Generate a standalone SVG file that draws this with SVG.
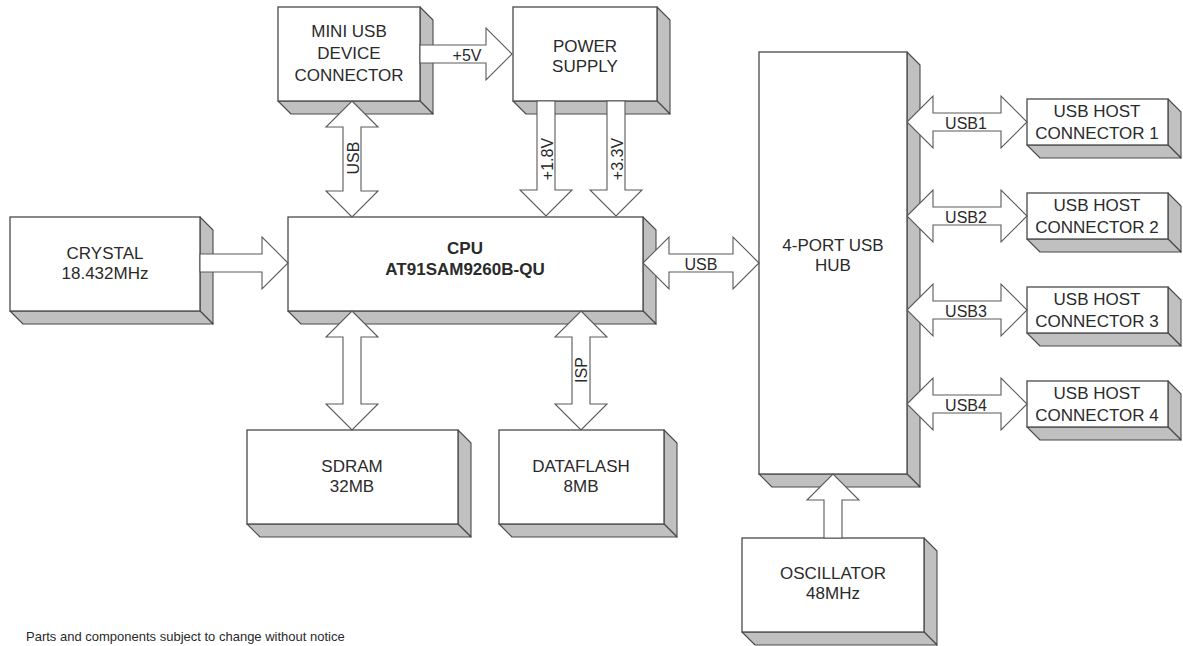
<svg xmlns="http://www.w3.org/2000/svg" width="1183" height="646" viewBox="0 0 1183 646">
<style>
.front{fill:#fff;stroke:#4a4a4a;stroke-width:1.3}
.shade{fill:#c0c0c0;stroke:#4a4a4a;stroke-width:1.1;stroke-linejoin:round}
.arrow{fill:#fff;stroke:#5a5a5a;stroke-width:1.1;stroke-linejoin:miter}
.t{font-family:"Liberation Sans",Arial,sans-serif;font-size:17px;fill:#2a2a2a;text-anchor:middle}
.b{font-weight:bold}
.lbl{font-family:"Liberation Sans",Arial,sans-serif;font-size:16px;fill:#2a2a2a;text-anchor:middle}
.note{font-family:"Liberation Sans",Arial,sans-serif;font-size:13px;fill:#2a2a2a}
</style>
<rect width="1183" height="646" fill="#fff"/>
<g id="mini-usb">
<polygon class="shade" points="420,7 433,20 433,114 420,101"/>
<polygon class="shade" points="278,101 420,101 433,114 291,114"/>
<rect class="front" x="278" y="7" width="142" height="94"/>
<text class="t" x="349" y="37">MINI USB</text>
<text class="t" x="349" y="59">DEVICE</text>
<text class="t" x="349" y="81">CONNECTOR</text>
</g>
<g id="power">
<polygon class="shade" points="657,7 670,20 670,114 657,101"/>
<polygon class="shade" points="513,101 657,101 670,114 526,114"/>
<rect class="front" x="513" y="7" width="144" height="94"/>
<text class="t" x="585" y="52">POWER</text>
<text class="t" x="585" y="72">SUPPLY</text>
</g>
<g id="crystal">
<polygon class="shade" points="200,217 213,230 213,324 200,311"/>
<polygon class="shade" points="10,311 200,311 213,324 23,324"/>
<rect class="front" x="10" y="217" width="190" height="94"/>
<text class="t" x="105" y="259">CRYSTAL</text>
<text class="t" x="105" y="279">18.432MHz</text>
</g>
<g id="cpu">
<polygon class="shade" points="643,217 656,230 656,324 643,311"/>
<polygon class="shade" points="288,311 643,311 656,324 301,324"/>
<rect class="front" x="288" y="217" width="355" height="94"/>
<text class="t b" x="465" y="254">CPU</text>
<text class="t b" x="465" y="275">AT91SAM9260B-QU</text>
</g>
<g id="hub">
<polygon class="shade" points="907,52 920,65 920,487 907,474"/>
<polygon class="shade" points="759,474 907,474 920,487 772,487"/>
<rect class="front" x="759" y="52" width="148" height="422"/>
<text class="t" x="833" y="251">4-PORT USB</text>
<text class="t" x="833" y="271">HUB</text>
</g>
<g id="sdram">
<polygon class="shade" points="458,430 471,443 471,537 458,524"/>
<polygon class="shade" points="247,524 458,524 471,537 260,537"/>
<rect class="front" x="247" y="430" width="211" height="94"/>
<text class="t" x="352" y="472">SDRAM</text>
<text class="t" x="352" y="492">32MB</text>
</g>
<g id="dataflash">
<polygon class="shade" points="664,430 677,443 677,537 664,524"/>
<polygon class="shade" points="499,524 664,524 677,537 512,537"/>
<rect class="front" x="499" y="430" width="165" height="94"/>
<text class="t" x="581" y="472">DATAFLASH</text>
<text class="t" x="581" y="492">8MB</text>
</g>
<g id="oscillator">
<polygon class="shade" points="924,538 937,551 937,645 924,632"/>
<polygon class="shade" points="742,632 924,632 937,645 755,645"/>
<rect class="front" x="742" y="538" width="182" height="94"/>
<text class="t" x="833" y="579">OSCILLATOR</text>
<text class="t" x="833" y="599">48MHz</text>
</g>
<g id="usb-host-1">
<polygon class="shade" points="1168,99 1181,112 1181,158 1168,145"/>
<polygon class="shade" points="1027,145 1168,145 1181,158 1040,158"/>
<rect class="front" x="1027" y="99" width="141" height="46"/>
<text class="t" x="1097" y="117">USB HOST</text>
<text class="t" x="1097" y="139">CONNECTOR 1</text>
</g>
<g id="usb-host-2">
<polygon class="shade" points="1168,193 1181,206 1181,252 1168,239"/>
<polygon class="shade" points="1027,239 1168,239 1181,252 1040,252"/>
<rect class="front" x="1027" y="193" width="141" height="46"/>
<text class="t" x="1097" y="211">USB HOST</text>
<text class="t" x="1097" y="233">CONNECTOR 2</text>
</g>
<g id="usb-host-3">
<polygon class="shade" points="1168,287 1181,300 1181,346 1168,333"/>
<polygon class="shade" points="1027,333 1168,333 1181,346 1040,346"/>
<rect class="front" x="1027" y="287" width="141" height="46"/>
<text class="t" x="1097" y="305">USB HOST</text>
<text class="t" x="1097" y="327">CONNECTOR 3</text>
</g>
<g id="usb-host-4">
<polygon class="shade" points="1168,381 1181,394 1181,440 1168,427"/>
<polygon class="shade" points="1027,427 1168,427 1181,440 1040,440"/>
<rect class="front" x="1027" y="381" width="141" height="46"/>
<text class="t" x="1097" y="399">USB HOST</text>
<text class="t" x="1097" y="421">CONNECTOR 4</text>
</g>
<g id="connectors">
<path class="arrow" d="M200,254 H262 V237 L288,263 L262,289 V272 H200 Z"/>
<path class="arrow" d="M420,45 H486 V28 L512,54 L486,80 V63 H420 Z"/>
<text class="lbl" x="467" y="61">+5V</text>
<path class="arrow" d="M352,101 L378,127 H361 V191 H378 L352,217 L326,191 H343 V127 H326 Z"/>
<text class="lbl" x="359" y="158" transform="rotate(-90 359 158)">USB</text>
<path class="arrow" d="M537,101 H555 V190 H572 L546,216 L520,190 H537 Z"/>
<text class="lbl" x="553" y="159" transform="rotate(-90 553 159)">+1.8V</text>
<path class="arrow" d="M607,101 H625 V190 H642 L616,216 L590,190 H607 Z"/>
<text class="lbl" x="623" y="159" transform="rotate(-90 623 159)">+3.3V</text>
<path class="arrow" d="M643,263 L669,237 V254 H733 V237 L759,263 L733,289 V272 H669 V289 Z"/>
<text class="lbl" x="701" y="270">USB</text>
<path class="arrow" d="M352,311 L378,337 H361 V404 H378 L352,430 L326,404 H343 V337 H326 Z"/>
<path class="arrow" d="M581,311 L607,337 H590 V404 H607 L581,430 L555,404 H572 V337 H555 Z"/>
<text class="lbl" x="587" y="370" transform="rotate(-90 587 370)">ISP</text>
<path class="arrow" d="M907,122 L933,96 V113 H1001 V96 L1027,122 L1001,148 V131 H933 V148 Z"/>
<text class="lbl" x="966" y="129">USB1</text>
<path class="arrow" d="M907,216 L933,190 V207 H1001 V190 L1027,216 L1001,242 V225 H933 V242 Z"/>
<text class="lbl" x="966" y="223">USB2</text>
<path class="arrow" d="M907,310 L933,284 V301 H1001 V284 L1027,310 L1001,336 V319 H933 V336 Z"/>
<text class="lbl" x="966" y="317">USB3</text>
<path class="arrow" d="M907,404 L933,378 V395 H1001 V378 L1027,404 L1001,430 V413 H933 V430 Z"/>
<text class="lbl" x="966" y="411">USB4</text>
<path class="arrow" d="M824,538 V500 H807 L833,474 L859,500 H842 V538 Z"/>
</g>
<text class="note" x="26" y="641">Parts and components subject to change without notice</text>
</svg>
